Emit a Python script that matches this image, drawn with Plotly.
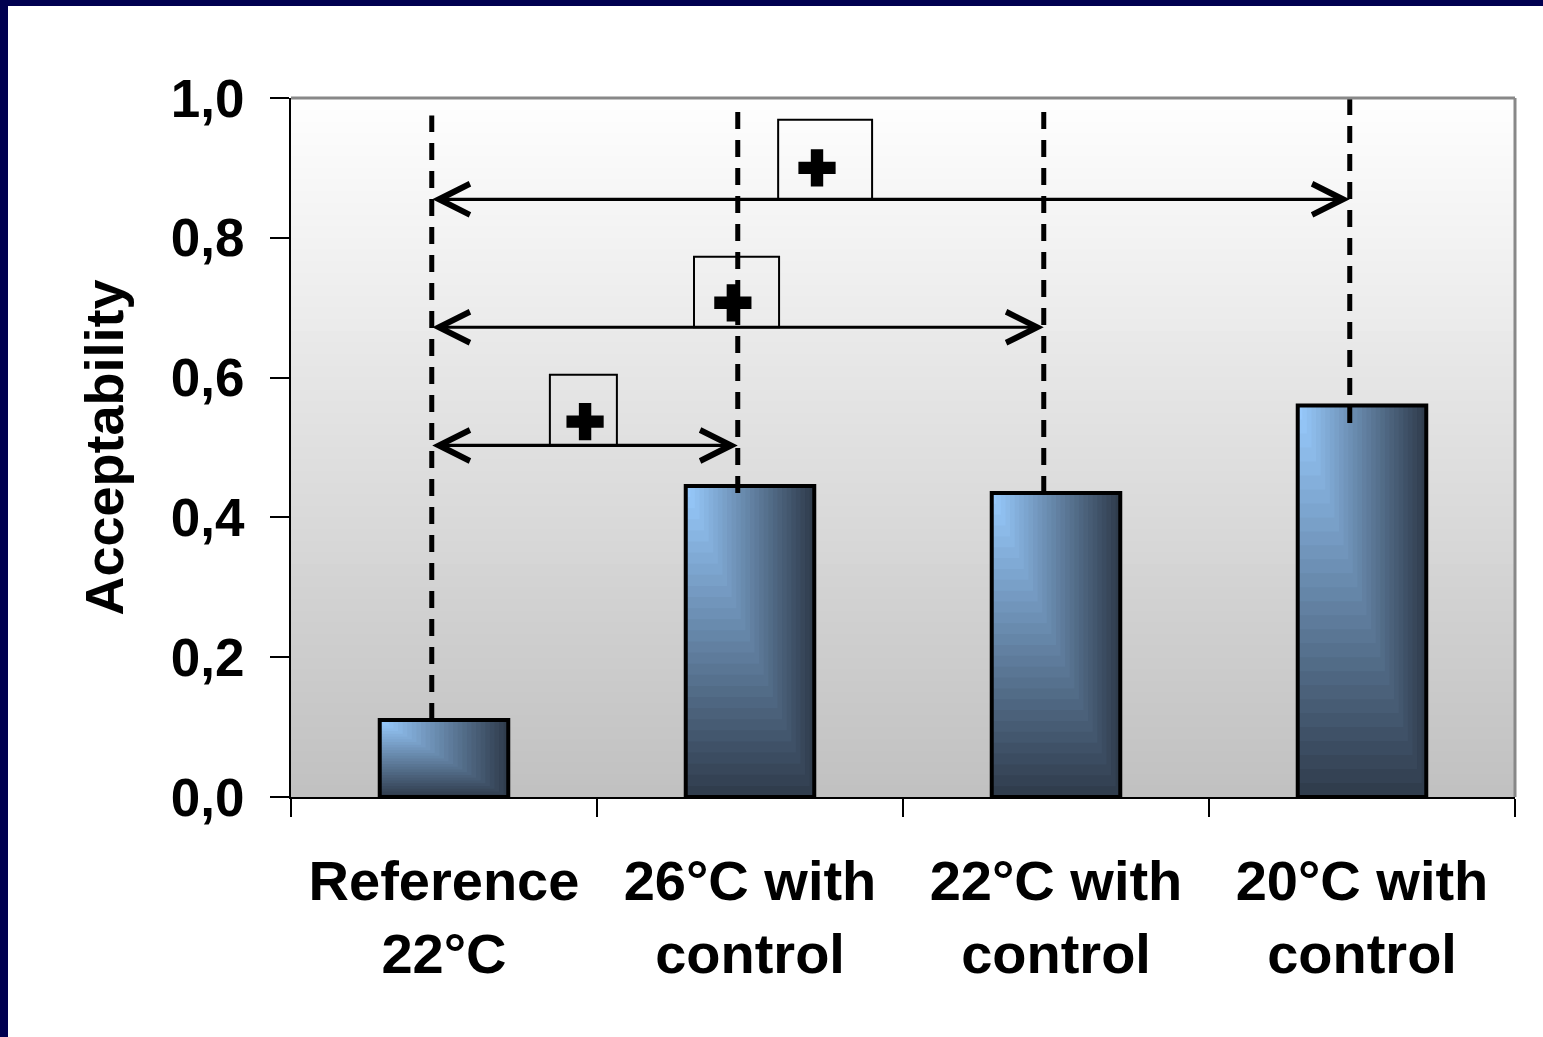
import plotly.graph_objects as go

# ---- data ----
categories = ["Reference<br>22°C", "26°C with<br>control", "22°C with<br>control", "20°C with<br>control"]
acceptability = [0.11, 0.445, 0.435, 0.56]
y_ticks = [0.0, 0.2, 0.4, 0.6, 0.8, 1.0]

# dashed guide lines (per category): bottom / top values
guide_bottom = [0.11, 0.435, 0.435, 0.535]
guide_top = [0.975, 0.99, 0.99, 1.0]

# significance arrows: (from category, to category, level)
arrow_from = [0, 0, 0]
arrow_to = [1, 2, 3]
arrow_level = [0.503, 0.672, 0.855]

# boxes with "+" markers: x range (category units), top value
box_x0 = [0.346, 0.817, 1.092]
box_x1 = [0.565, 1.095, 1.399]
box_top = [0.604, 0.773, 0.969]
plus_x = [0.461, 0.944, 1.219]
plus_y = [0.537, 0.707, 0.900]

# ---- layout constants ----
W, H = 1543, 1037
ML, MR, MT, MB = 291, 28, 98, 240
PW, PH = W - ML - MR, H - MT - MB
FONT = "Liberation Sans, Arial, sans-serif"
BW = 0.42
GUIDE_OFF = -0.04

xs = list(range(len(categories)))
fig = go.Figure()

# gradient bars (rectangular gradient from top-left corner)
light = (153, 204, 255)
dark = (46, 58, 74)
N = 28
for k in range(N, 0, -1):
    t = k / N
    s = (k - 0.5) / N
    col = tuple(round(light[i] + (dark[i] - light[i]) * s) for i in range(3))
    fig.add_trace(go.Bar(
        x=xs,
        y=[v * t for v in acceptability],
        base=[v * (1 - t) for v in acceptability],
        width=BW * t, offset=-BW / 2,
        marker=dict(color="rgb(%d,%d,%d)" % col, line=dict(width=0)),
        hoverinfo="skip", showlegend=False))

# bar outlines
fig.add_trace(go.Bar(
    x=xs, y=acceptability, width=BW, offset=-BW / 2,
    marker=dict(color="rgba(0,0,0,0)", line=dict(color="black", width=4)),
    hoverinfo="skip", showlegend=False))

# dashed guide lines
for i in xs:
    fig.add_trace(go.Scatter(
        x=[i + GUIDE_OFF, i + GUIDE_OFF], y=[guide_bottom[i], guide_top[i]],
        mode="lines", line=dict(color="black", width=5, dash="17px,11px"),
        hoverinfo="skip", showlegend=False))

# plus markers
fig.add_trace(go.Scatter(
    x=plus_x, y=plus_y, mode="markers",
    marker=dict(symbol="cross", size=31, color="black", line=dict(width=0)),
    hoverinfo="skip", showlegend=False))

shapes = []
# plot-area vertical gradient background
G = 60
for j in range(G):
    y0, y1 = j / G, (j + 1) / G
    g = round(192 + (255 - 192) * (j + 0.5) / G)
    shapes.append(dict(type="rect", xref="paper", yref="paper", x0=0, x1=1, y0=y0, y1=y1 + 0.002,
                       fillcolor="rgb(%d,%d,%d)" % (g, g, g), line=dict(width=0), layer="below"))
# grey top/right frame
shapes.append(dict(type="line", xref="paper", yref="paper", x0=0, x1=1, y0=1, y1=1,
                   line=dict(color="#888888", width=3)))
shapes.append(dict(type="line", xref="paper", yref="paper", x0=1, x1=1, y0=0, y1=1,
                   line=dict(color="#888888", width=3)))
# boxes
for a in range(len(box_x0)):
    shapes.append(dict(type="rect", xref="x", yref="y", x0=box_x0[a], x1=box_x1[a],
                       y0=arrow_level[a], y1=box_top[a],
                       line=dict(color="black", width=2), fillcolor="rgba(0,0,0,0)"))

# navy slide frame (left and top strips)
def px_x(p):
    return (p - ML) / PW

def px_y(p):
    return (H - MB - p) / PH

NAVY = "#000050"
shapes.append(dict(type="rect", xref="paper", yref="paper", x0=px_x(0), x1=px_x(8),
                   y0=px_y(H), y1=px_y(0), fillcolor=NAVY, line=dict(width=0)))
shapes.append(dict(type="rect", xref="paper", yref="paper", x0=px_x(0), x1=px_x(W),
                   y0=px_y(6), y1=px_y(0), fillcolor=NAVY, line=dict(width=0)))

# arrows
annotations = []
for a in range(len(arrow_level)):
    annotations.append(dict(
        x=arrow_to[a] + GUIDE_OFF, y=arrow_level[a], xref="x", yref="y",
        ax=arrow_from[a] + GUIDE_OFF, ay=arrow_level[a], axref="x", ayref="y",
        text="", showarrow=True, arrowside="end+start",
        arrowhead=5, startarrowhead=5, arrowsize=1.9, startarrowsize=1.9,
        arrowwidth=3.2, arrowcolor="black", standoff=0, startstandoff=0,
        font=dict(size=1), borderpad=0))

fig.update_layout(
    width=W, height=H,
    margin=dict(l=ML, r=MR, t=MT, b=MB, autoexpand=False),
    paper_bgcolor="white", plot_bgcolor="rgba(0,0,0,0)",
    barmode="overlay", separators=",.",
    font=dict(family=FONT, color="black", size=54, weight="bold"),
    shapes=shapes, annotations=annotations,
    xaxis=dict(
        range=[-0.5, 3.5], tickmode="array", tickvals=xs, ticktext=categories,
        ticks="", showgrid=False, zeroline=False,
        showline=True, linecolor="black", linewidth=2,
        tickfont=dict(family=FONT, size=56, color="black", weight="bold"),
        ticklabelstandoff=34,
        minor=dict(tickmode="array", tickvals=[-0.5, 0.5, 1.5, 2.5, 3.5], ticks="outside",
                   ticklen=18, tickwidth=2, tickcolor="black", showgrid=False),
    ),
    yaxis=dict(
        range=[0, 1], tickmode="array", tickvals=y_ticks, tickformat=".1f",
        ticks="outside", ticklen=19, tickwidth=2, tickcolor="black",
        showgrid=False, zeroline=False,
        showline=True, linecolor="black", linewidth=2,
        tickfont=dict(family=FONT, size=53, color="black", weight="bold"),
        ticklabelstandoff=15,
        title=dict(text="Acceptability", standoff=30,
                   font=dict(family=FONT, size=54, color="black", weight="bold")),
    ),
)

fig.write_html("out.html")
